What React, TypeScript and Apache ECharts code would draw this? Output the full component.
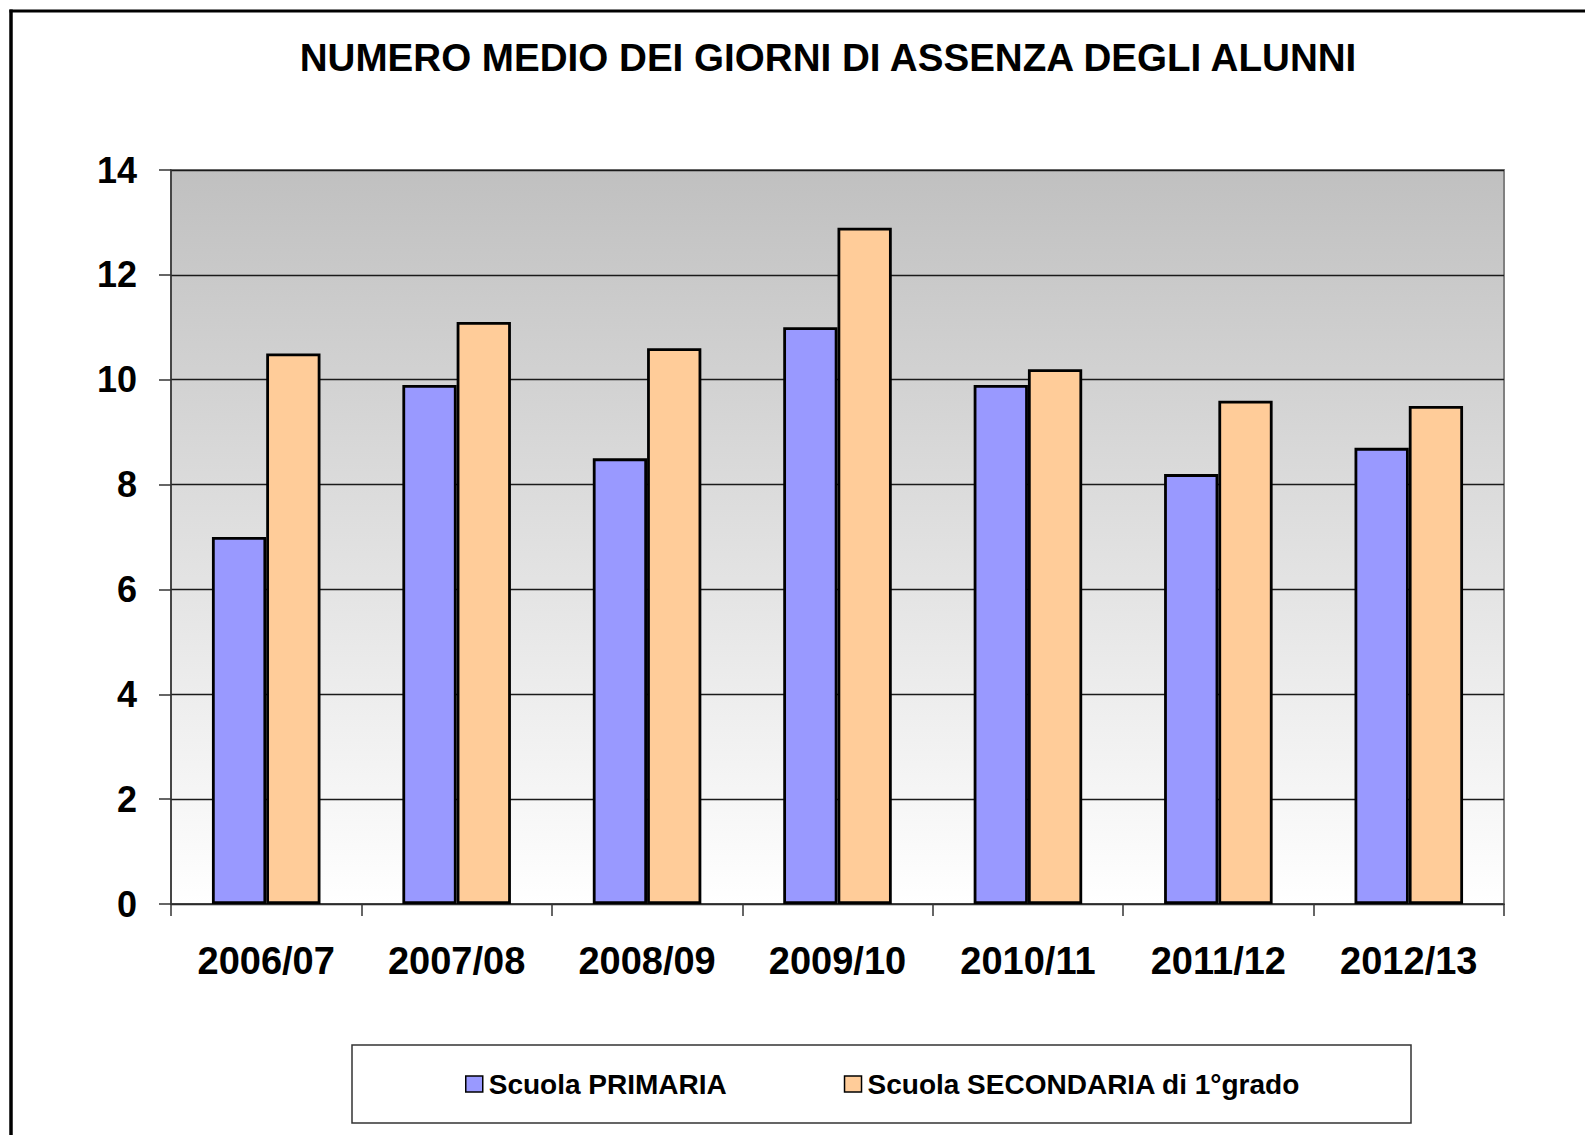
import React, { useEffect, useRef } from "react";
import * as echarts from "echarts";

const categories = ["2006/07", "2007/08", "2008/09", "2009/10", "2010/11", "2011/12", "2012/13"];
const primaria = [7.0, 9.9, 8.5, 11.0, 9.9, 8.2, 8.7];
const secondaria = [10.5, 11.1, 10.6, 12.9, 10.2, 9.6, 9.5];
const seriesNames = ["Scuola PRIMARIA", "Scuola SECONDARIA di 1°grado"];
const titleText = "NUMERO MEDIO DEI GIORNI DI ASSENZA DEGLI ALUNNI";

const FONT = '"Liberation Sans", Arial, Helvetica, sans-serif';

export default function App() {
  const ref = useRef<HTMLDivElement>(null);
  useEffect(() => {
    document.body.style.margin = "0";
    if (!ref.current) return;
    const chart = echarts.init(ref.current, undefined, { renderer: "svg" });
    chart.setOption({
      animation: false,
      backgroundColor: "#ffffff",
      textStyle: { fontFamily: FONT },
      title: {
        text: titleText,
        left: 823,
        top: 33,
        textAlign: "center",
        textStyle: { fontFamily: FONT, fontSize: 38.6, fontWeight: "bold", color: "#000" },
      },
      grid: {
        left: 171,
        top: 170,
        right: 81,
        bottom: 231,
        show: true,
        borderColor: "#808080",
        borderWidth: 2,
        backgroundColor: new echarts.graphic.LinearGradient(0, 0, 0, 1, [
          { offset: 0, color: "#c0c0c0" },
          { offset: 1, color: "#ffffff" },
        ]),
      },
      legend: {
        left: 465,
        top: 1070,
        itemWidth: 17,
        itemHeight: 16,
        itemGap: 117,
        padding: 0,
        icon: "rect",
        itemStyle: { borderColor: "#000", borderWidth: 1.5 },
        textStyle: { fontFamily: FONT, fontSize: 28, fontWeight: "bold", color: "#000", padding: [0, 0, 0, 1] },
        data: seriesNames,
      },
      xAxis: {
        type: "category",
        data: categories,
        axisLine: { lineStyle: { color: "#333", width: 1.5 } },
        axisTick: { show: true, length: 12, lineStyle: { color: "#333", width: 1.5 } },
        axisLabel: {
          interval: 0,
          margin: 38,
          fontFamily: FONT,
          fontSize: 38,
          fontWeight: "bold",
          color: "#000",
        },
      },
      yAxis: {
        type: "value",
        min: 0,
        max: 14,
        interval: 2,
        axisLine: { show: true, lineStyle: { color: "#333", width: 1.5 } },
        axisTick: { show: true, length: 12, lineStyle: { color: "#333", width: 1.5 } },
        axisLabel: {
          margin: 34,
          fontFamily: FONT,
          fontSize: 36,
          fontWeight: "bold",
          color: "#000",
        },
        splitLine: { show: true, lineStyle: { color: "#1a1a1a", width: 1.3 } },
      },
      series: [
        {
          name: seriesNames[0],
          type: "bar",
          data: primaria,
          barGap: "0%",
          barCategoryGap: "43%",
          itemStyle: { color: "#9999ff", borderColor: "#000", borderWidth: 2.8 },
        },
        {
          name: seriesNames[1],
          type: "bar",
          data: secondaria,
          barGap: "0%",
          barCategoryGap: "43%",
          itemStyle: { color: "#ffcc99", borderColor: "#000", borderWidth: 2.8 },
        },
      ],
      graphic: [
        {
          type: "rect",
          shape: { x: 352, y: 1045, width: 1059, height: 78 },
          style: { fill: "none", stroke: "#333", lineWidth: 1.5 },
          silent: true,
        },
        {
          type: "line",
          shape: { x1: 9.5, y1: 11, x2: 1585, y2: 11 },
          style: { stroke: "#000", lineWidth: 3 },
          silent: true,
        },
        {
          type: "line",
          shape: { x1: 11, y1: 9.5, x2: 11, y2: 1135 },
          style: { stroke: "#000", lineWidth: 3.5 },
          silent: true,
        },
      ],
    });
    return () => chart.dispose();
  }, []);
  return <div ref={ref} style={{ width: 1585, height: 1135 }} />;
}
